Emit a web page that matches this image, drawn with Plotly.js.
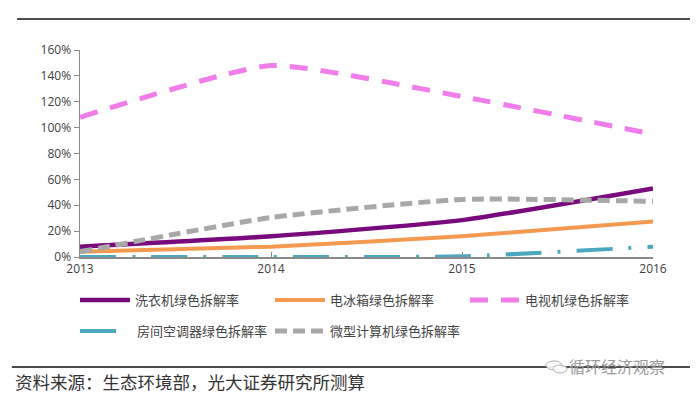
<!DOCTYPE html>
<html><head><meta charset="utf-8">
<script src="https://cdn.plot.ly/plotly-3.0.1.min.js"></script>
<style>html,body{margin:0;padding:0;background:#fff;}#chart{width:697px;height:399px;}</style>
</head><body><div id="chart"></div>
<script>
const years = [2013, 2014, 2015, 2016];
const washer = [8, 16, 28.5, 53];
const fridge = [4, 8, 16, 27.5];
const tv = [108, 148, 124, 95];
const aircon = [0, 0, 0.5, 8];
const computer = [4, 30.5, 44.5, 43];
const names = ['洗衣机绿色拆解率','电冰箱绿色拆解率','电视机绿色拆解率','房间空调器绿色拆解率','微型计算机绿色拆解率'];
const yTicks = [0,20,40,60,80,100,120,140,160];
const yTickText = yTicks.map(v => v + '%');

const cjk = '"Noto Sans CJK SC", "Noto Sans", sans-serif';
function tr(y, name, color, width, dash, legend) {
  return {x: years, y: y, name: name, type: 'scatter', mode: 'lines',
    line: {color: color, width: width, dash: dash, shape: 'spline', smoothing: 0.5},
    legend: legend, hoverinfo: 'skip'};
}
const data = [
  tr(washer, names[0], '#780A7C', 4.5, 'solid', 'legend'),
  tr(fridge, names[1], '#F39A50', 4, 'solid', 'legend2'),
  tr(tv, names[2], '#F07DEA', 5, '18px,13px', 'legend3'),
  tr(aircon, names[3], '#4BA8BE', 4, '36px,16px,3px,16px', 'legend4'),
  tr(computer, names[4], '#A8A8A8', 5, '12px,6px', 'legend5')
];
function leg(px, py, iw) {
  return {orientation: 'h', xanchor: 'left', yanchor: 'middle',
    x: (px - 80) / 573, y: (257 - py) / 207,
    font: {family: cjk, size: 13, color: '#444'}, bgcolor: 'rgba(0,0,0,0)',
    itemwidth: iw};
}
const layout = {
  width: 697, height: 399,
  margin: {l: 80, r: 44, t: 50, b: 142},
  paper_bgcolor: '#fff', plot_bgcolor: '#fff',
  showlegend: true,
  legend: leg(75, 300, 50),
  legend2: leg(270, 300, 50),
  legend3: leg(465, 300, 50),
  legend4: leg(75, 331, 52),
  legend5: leg(270, 331, 50),
  xaxis: {range: [2013, 2016], tickvals: years, ticktext: years.map(String),
    showgrid: false, zeroline: false, showline: true, linecolor: '#8a8a8a', linewidth: 1.5,
    ticks: 'inside', ticklen: 5, tickcolor: '#8a8a8a',
    tickfont: {family: '"Open Sans", sans-serif', size: 12, color: '#404040'}, fixedrange: true},
  yaxis: {range: [0, 160], tickvals: yTicks, ticktext: yTickText,
    showgrid: false, zeroline: false, showline: true, linecolor: '#8a8a8a', linewidth: 1.5,
    ticks: 'outside', ticklen: 5, tickcolor: '#8a8a8a',
    tickfont: {family: '"Open Sans", sans-serif', size: 12, color: '#404040'}, fixedrange: true},
  shapes: [
    {type: 'line', xref: 'paper', yref: 'paper', x0: -0.11, x1: 1.0646, y0: 1.1498, y1: 1.1498, line: {color: '#111', width: 1.5}},
    {type: 'line', xref: 'paper', yref: 'paper', x0: -0.119, x1: 1.0646, y0: -0.531, y1: -0.531, line: {color: '#111', width: 1.5}},
    {type: 'circle', xref: 'paper', yref: 'paper', x0: 0.8133, x1: 0.8413, y0: -0.502, y1: -0.545, line: {color: '#b0b0b0', width: 1}, fillcolor: 'rgba(255,255,255,0.9)'},
    {type: 'circle', xref: 'paper', yref: 'paper', x0: 0.8255, x1: 0.8500, y0: -0.522, y1: -0.560, line: {color: '#b0b0b0', width: 1}, fillcolor: 'rgba(255,255,255,0.9)'}
  ],
  annotations: [
    {text: '资料来源：生态环境部，光大证券研究所测算', xref: 'paper', yref: 'paper', x: -0.117, y: -0.6, xanchor: 'left', yanchor: 'middle', showarrow: false,
      font: {family: cjk, size: 17.5, color: '#333'}},
    {text: '循环经济观察', xref: 'paper', yref: 'paper', x: 1.025, y: -0.528, xanchor: 'right', yanchor: 'middle', showarrow: false,
      bgcolor: 'rgba(0,0,0,0)',
      font: {family: cjk, size: 16, color: '#9a9a9a'}}
  ]
};
Plotly.newPlot('chart', data, layout, {displayModeBar: false, staticPlot: true});
</script></body></html>
